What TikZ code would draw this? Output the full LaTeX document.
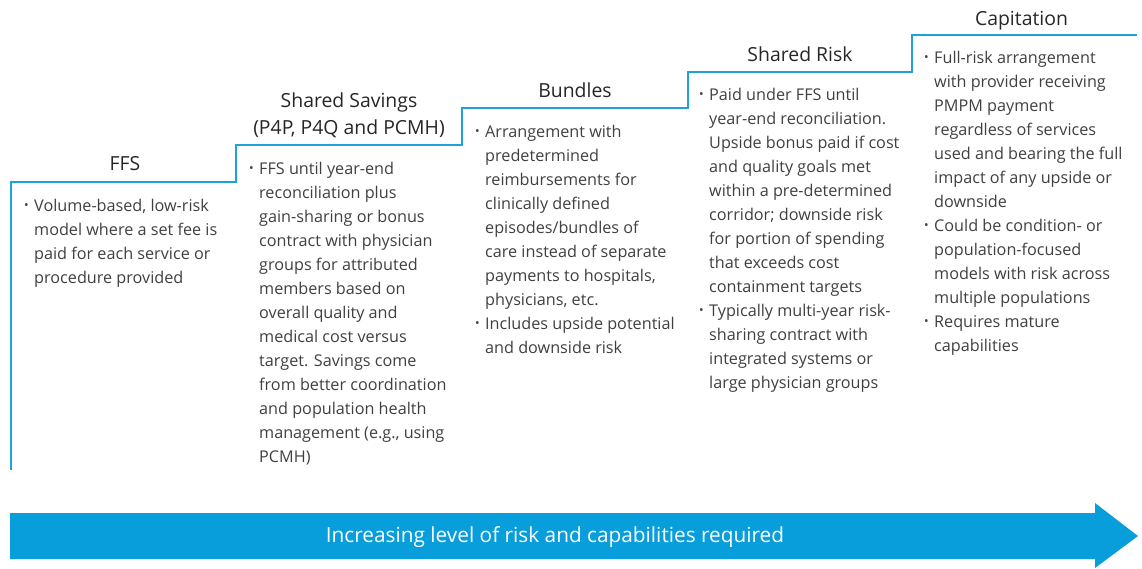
\documentclass[tikz,border=0pt]{standalone}
\usepackage{fontspec}
\setmainfont{Open Sans}
\definecolor{stepblue}{RGB}{30,162,218}
\definecolor{arrowblue}{RGB}{8,158,219}
\definecolor{bodygray}{RGB}{64,64,64}
\newcommand{\bl}{\makebox[10pt][l]{\raisebox{0.2ex}{\scalebox{0.75}{\textbullet}}}}
\newcommand{\ind}{\hspace*{10pt}}

\begin{document}
\begin{tikzpicture}[x=1pt,y=-1pt,
	title/.style={anchor=base, inner sep=0pt, align=center, text=black!85, font=\fontsize{19.4}{27}\selectfont},
	body/.style={anchor=north west, inner sep=0pt, align=left, text=bodygray, font=\fontsize{16.2}{24}\selectfont}]
		\useasboundingbox (0,0) rectangle (1142,568);
		% corners of the steps
		\foreach \i/\xs/\ys in {0/11/182, 1/236/145, 2/462/108, 3/688/72, 4/912/35}{
			\coordinate (s\i) at (\xs,\ys);
		}
		\draw[stepblue, line width=1.3pt] (11,470) -- (s0) -| (s1) -| (s2) -| (s3) -| (s4) -- (1137,35);
		\foreach \x/\y/\alph/\name in {
			125/170/tffs/{FFS},
			349/134/tsave/{Shared Savings\\(P4P, P4Q and PCMH)},
			575/97/tbund/{Bundles},
			800/61/trisk/{Shared Risk},
			1024/25/tcap/{Capitation}
		}{
			\node[title] (\alph) at (\x,\y) {\name};
		}
		\node[body] (bffs) at (24,199) {\bl Volume-based, low-risk\\ \ind model where a set fee is\\ \ind paid for each service or\\ \ind procedure provided};
		\node[body] (bsave) at (249,162) {\bl FFS until year-end\\ \ind reconciliation plus\\ \ind gain-sharing or bonus\\ \ind contract with physician\\ \ind groups for attributed\\ \ind members based on\\ \ind overall quality and\\ \ind medical cost versus\\ \ind target. Savings come\\ \ind from better coordination\\ \ind and population health\\ \ind management (e.g., using\\ \ind PCMH)};
		\node[body] (bbund) at (475,125) {\bl Arrangement with\\ \ind predetermined\\ \ind reimbursements for\\ \ind clinically defined\\ \ind episodes/bundles of\\ \ind care instead of separate\\ \ind payments to hospitals,\\ \ind physicians, etc.\\ \bl Includes upside potential\\ \ind and downside risk};
		\node[body] (brisk) at (699,88) {\bl Paid under FFS until\\ \ind year-end reconciliation.\\ \ind Upside bonus paid if cost\\ \ind and quality goals met\\ \ind within a pre-determined\\ \ind corridor; downside risk\\ \ind for portion of spending\\ \ind that exceeds cost\\ \ind containment targets\\ \bl Typically multi-year risk-\\ \ind sharing contract with\\ \ind integrated systems or\\ \ind large physician groups};
		\node[body] (bcap) at (924,51) {\bl Full-risk arrangement\\ \ind with provider receiving\\ \ind PMPM payment\\ \ind regardless of services\\ \ind used and bearing the full\\ \ind impact of any upside or\\ \ind downside\\ \bl Could be condition- or\\ \ind population-focused\\ \ind models with risk across\\ \ind multiple populations\\ \bl Requires mature\\ \ind capabilities};
		% arrow at the bottom
		\fill[arrowblue] (10,513) -- (1095,513) -- (1095,503) -- (1138,536) -- (1095,568) -- (1095,559) -- (10,559) -- cycle;
		\node[text=white, font=\fontsize{20.8}{24}\selectfont] (risk) at (555,537) {Increasing level of risk and capabilities required};
\end{tikzpicture}
\end{document}
